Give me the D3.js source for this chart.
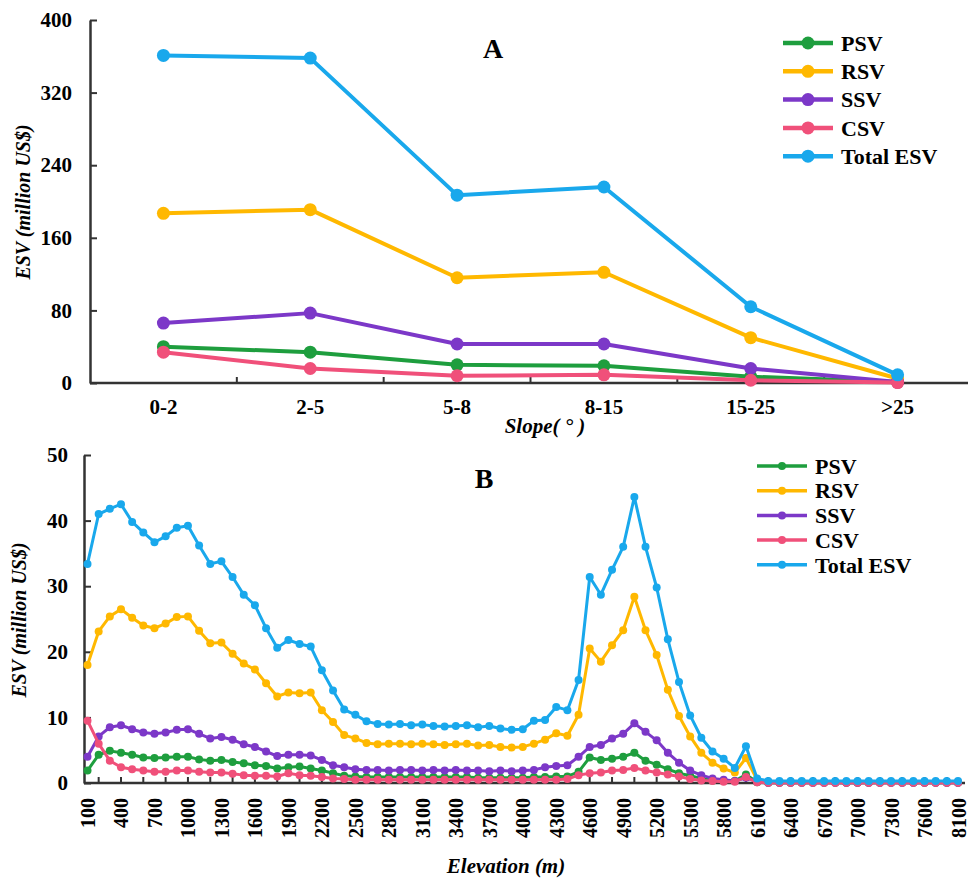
<!DOCTYPE html>
<html>
<head>
<meta charset="utf-8">
<script src="https://cdn.jsdelivr.net/npm/d3@7"></script>
<style>
  body { margin: 0; background: #fff; }
  svg { display: block; font-family: "Liberation Serif", "Times New Roman", serif; }
  .tick text { font-weight: bold; font-size: 21px; fill: #000; }
</style>
</head>
<body>
<svg class="chart" width="968" height="879"></svg>
<script>
// ---- panel A: ESV by slope ----
const slopes = ["0-2", "2-5", "5-8", "8-15", "15-25", ">25"];
const slopePSV = [40, 34, 20, 19, 7, 1];
const slopeRSV = [187, 191, 116, 122, 50, 5];
const slopeSSV = [66, 77, 43, 43, 16, 1];
const slopeCSV = [34, 16, 8, 9, 3, 0.5];
const slopeTotal = [361, 358, 207, 216, 84, 9];
const slopeTicks = [0, 80, 160, 240, 320, 400];

// ---- panel B: ESV by elevation ----
const elevations = ["100","200","300","400","500","600","700","800","900","1000",
  "1100","1200","1300","1400","1500","1600","1700","1800","1900","2000",
  "2100","2200","2300","2400","2500","2600","2700","2800","2900","3000",
  "3100","3200","3300","3400","3500","3600","3700","3800","3900","4000",
  "4100","4200","4300","4400","4500","4600","4700","4800","4900","5000",
  "5100","5200","5300","5400","5500","5600","5700","5800","5900","6000",
  "6100","6200","6300","6400","6500","6600","6700","6800","6900","7000",
  "7100","7200","7300","7400","7500","7600","7700","7800","8100"];
const elevPSV = [1.9,4.3,4.9,4.6,4.3,3.9,3.8,3.9,4.0,4.0,
  3.6,3.4,3.5,3.2,3.0,2.7,2.6,2.2,2.4,2.5,
  2.2,1.9,1.5,1.1,1.0,0.9,0.9,0.9,0.9,0.9,
  0.9,0.9,0.9,0.9,0.9,0.8,0.8,0.8,0.8,0.8,
  0.9,0.9,1.0,1.0,1.7,3.9,3.5,3.7,4.0,4.6,
  3.4,2.8,2.1,1.5,1.1,0.7,0.4,0.3,0.3,1.3,
  0.1,0.05,0.05,0.05,0.05,0.05,0.05,0.05,0.05,0.05,
  0.05,0.05,0.05,0.05,0.05,0.05,0.05,0.05,0.05];
const elevRSV = [18.0,23.1,25.4,26.5,25.2,24.0,23.6,24.3,25.3,25.4,
  23.2,21.3,21.4,19.7,18.2,17.3,15.2,13.2,13.8,13.7,
  13.8,11.1,9.3,7.3,6.8,6.1,5.9,6.0,6.0,5.9,
  6.0,5.9,5.8,5.9,6.0,5.7,5.8,5.5,5.4,5.5,
  6.0,6.6,7.6,7.2,10.4,20.5,18.5,21.0,23.3,28.4,
  23.3,19.5,14.2,10.2,7.1,4.6,3.1,2.2,1.6,3.8,
  0.5,0.1,0.1,0.1,0.1,0.1,0.1,0.1,0.1,0.1,
  0.1,0.1,0.1,0.1,0.1,0.1,0.1,0.1,0.1];
const elevSSV = [4.0,7.1,8.5,8.8,8.2,7.7,7.5,7.7,8.1,8.2,
  7.5,6.8,7.0,6.6,5.9,5.5,4.8,4.1,4.3,4.3,
  4.2,3.5,2.7,2.4,2.1,2.0,2.0,1.9,2.0,2.0,
  1.9,2.0,1.9,2.0,1.9,1.9,1.8,1.9,1.8,1.9,
  2.0,2.4,2.6,2.7,4.0,5.5,5.8,6.8,7.5,9.1,
  7.8,6.5,4.6,3.1,1.9,1.2,0.7,0.5,0.3,0.8,
  0.2,0.05,0.05,0.05,0.05,0.05,0.05,0.05,0.05,0.05,
  0.05,0.05,0.05,0.05,0.05,0.05,0.05,0.05,0.05];
const elevCSV = [9.5,6.0,3.4,2.4,2.1,1.9,1.7,1.7,1.9,1.9,
  1.7,1.6,1.6,1.4,1.2,1.1,1.1,1.0,1.5,1.2,
  1.1,0.9,0.7,0.6,0.5,0.5,0.5,0.5,0.5,0.5,
  0.5,0.5,0.5,0.5,0.5,0.5,0.5,0.5,0.5,0.5,
  0.5,0.5,0.5,0.6,1.2,1.5,1.6,1.9,2.0,2.3,
  1.9,1.6,1.3,1.0,0.6,0.4,0.3,0.2,0.2,0.9,
  0.1,0.05,0.05,0.05,0.05,0.05,0.05,0.05,0.05,0.05,
  0.05,0.05,0.05,0.05,0.05,0.05,0.05,0.05,0.05];
const elevTotal = [33.4,41.0,41.8,42.5,39.8,38.2,36.7,37.6,38.9,39.2,
  36.2,33.4,33.8,31.4,28.7,27.1,23.6,20.6,21.8,21.2,
  20.8,17.2,14.1,11.2,10.4,9.4,9.0,8.9,9.0,8.8,
  8.9,8.7,8.6,8.7,8.8,8.5,8.7,8.3,8.1,8.2,
  9.5,9.6,11.6,11.1,15.7,31.4,28.7,32.5,36.0,43.6,
  36.0,29.8,21.9,15.4,10.3,6.9,4.8,3.7,2.3,5.6,
  0.7,0.3,0.3,0.3,0.3,0.3,0.3,0.3,0.3,0.3,
  0.3,0.3,0.3,0.3,0.3,0.3,0.3,0.3,0.3];
const elevTicks = [0, 10, 20, 30, 40, 50];

const seriesNames = ["PSV", "RSV", "SSV", "CSV", "Total ESV"];
const colors = ["#1e9e3e", "#ffb800", "#7c38c8", "#f0507a", "#19a8ec"];

const svg = d3.select(".chart");

function drawPanel(opt) {
    const g = svg.append("g");
    const x = opt.x, y = opt.y;

    // y axis, ticks pointing inward
    g.append("g")
        .attr("transform", `translate(${opt.axisX},0)`)
        .call(d3.axisLeft(y).tickValues(opt.yTicks).tickSizeInner(-7).tickSizeOuter(0).tickPadding(opt.yPad))
        .attr("font-family", null).attr("font-size", null)
        .call(a => a.select(".domain").attr("stroke", "#333").attr("stroke-width", 2.5))
        .call(a => a.selectAll(".tick line").attr("stroke", "#333").attr("stroke-width", 2));

    // x axis line
    g.append("line")
        .attr("x1", opt.axisX).attr("x2", opt.axisEnd)
        .attr("y1", y(0)).attr("y2", y(0))
        .attr("stroke", "#333").attr("stroke-width", 2.5);

    // x tick marks
    g.selectAll(".xt").data(opt.xTickPos).join("line")
        .attr("x1", d => d).attr("x2", d => d)
        .attr("y1", y(0)).attr("y2", y(0) - 6)
        .attr("stroke", "#333").attr("stroke-width", 2);

    // x labels
    const xa = g.append("g")
        .attr("transform", `translate(0,${y(0)})`)
        .call(opt.xAxis)
        .attr("font-family", null).attr("font-size", null);
    xa.select(".domain").remove();
    xa.selectAll(".tick line").remove();
    if (opt.rotate) {
        xa.selectAll(".tick text")
            .attr("transform", "rotate(-90)")
            .attr("text-anchor", "end")
            .attr("x", -15).attr("y", 0).attr("dy", "0.35em")
            .style("font-size", "20px");
    }

    const line = d3.line()
        .x((d, i) => opt.xPos(i))
        .y(d => y(d));

    opt.series.forEach((vals, k) => {
        g.append("path")
            .datum(vals)
            .attr("fill", "none")
            .attr("stroke", colors[k])
            .attr("stroke-width", opt.lw)
            .attr("stroke-linejoin", "round")
            .attr("d", line);
        g.selectAll(null).data(vals).join("circle")
            .attr("cx", (d, i) => opt.xPos(i))
            .attr("cy", d => y(d))
            .attr("r", opt.r)
            .attr("fill", colors[k]);
    });

    // legend
    const lg = g.append("g").attr("transform", `translate(${opt.legend[0]},${opt.legend[1]})`);
    seriesNames.forEach((name, k) => {
        const row = lg.append("g").attr("transform", `translate(0,${k * opt.legendStep})`);
        row.append("line").attr("x1", 0).attr("x2", 50)
            .attr("stroke", colors[k]).attr("stroke-width", opt.lw + 0.5);
        row.append("circle").attr("cx", 25).attr("r", opt.r).attr("fill", colors[k]);
        row.append("text").attr("x", 58).attr("dy", "0.35em")
            .attr("font-weight", "bold").attr("font-size", 22).text(name);
    });

    // title letter
    g.append("text").attr("x", opt.title[0]).attr("y", opt.title[1])
        .attr("text-anchor", "middle").attr("font-weight", "bold").attr("font-size", 28)
        .text(opt.letter);

    // axis titles
    g.append("text")
        .attr("transform", `translate(${opt.yTitle[0]},${opt.yTitle[1]}) rotate(-90)`)
        .attr("text-anchor", "middle").attr("font-weight", "bold").attr("font-style", "italic")
        .attr("font-size", 20)
        .text("ESV (million US$)");
    g.append("text")
        .attr("x", opt.xTitle[0]).attr("y", opt.xTitle[1])
        .attr("text-anchor", "middle").attr("font-weight", "bold").attr("font-style", "italic")
        .attr("font-size", 21)
        .text(opt.xLabel);
}

// panel A
const xA = d3.scaleBand().domain(slopes).range([90, 971]);
const yA = d3.scaleLinear().domain([0, 400]).range([383, 20]);
drawPanel({
    x: xA, y: yA, axisX: 90, axisEnd: 968, yPad: 18,
    yTicks: slopeTicks,
    xTickPos: slopes.slice(0, -1).map(d => xA(d) + xA.bandwidth()),
    xAxis: d3.axisBottom(xA).tickSize(0).tickPadding(16),
    xPos: i => xA(slopes[i]) + xA.bandwidth() / 2,
    series: [slopePSV, slopeRSV, slopeSSV, slopeCSV, slopeTotal],
    lw: 4, r: 6.5,
    legend: [783, 43], legendStep: 28.3,
    title: [493, 58], letter: "A",
    yTitle: [30, 202], xTitle: [545, 433], xLabel: "Slope( ° )"
});

// panel B
const xB = d3.scalePoint().domain(elevations).range([87.5, 958]);
const yB = d3.scaleLinear().domain([0, 50]).range([783, 455]);
drawPanel({
    x: xB, y: yB, axisX: 84, axisEnd: 965, yPad: 16,
    yTicks: elevTicks,
    xTickPos: elevations.filter((d, i) => i % 2 === 1).map(d => xB(d)),
    xAxis: d3.axisBottom(xB).tickValues(elevations.filter((d, i) => i % 3 === 0)).tickSize(0),
    xPos: i => xB(elevations[i]),
    series: [elevPSV, elevRSV, elevSSV, elevCSV, elevTotal],
    lw: 3, r: 4, rotate: true,
    legend: [757, 466], legendStep: 24.7,
    title: [484, 488], letter: "B",
    yTitle: [26, 620], xTitle: [506, 873], xLabel: "Elevation (m)"
});
</script>
</body>
</html>
